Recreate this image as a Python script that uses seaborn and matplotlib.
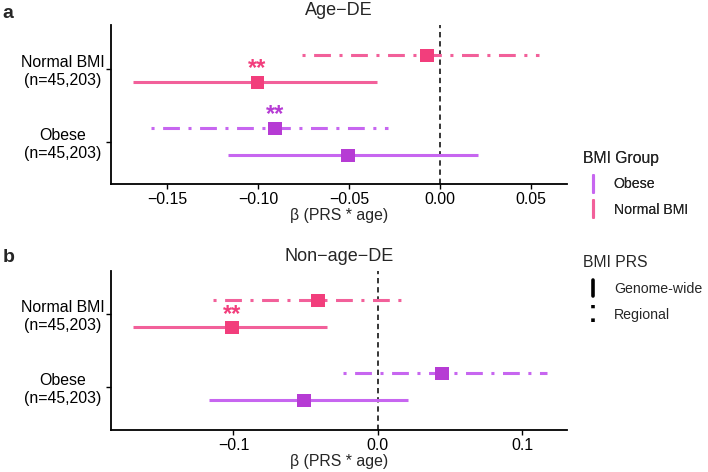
import pandas as pd
import matplotlib.pyplot as plt
import seaborn as sns
from matplotlib.lines import Line2D
from matplotlib.legend_handler import HandlerBase

# Chart data
groups = ["Obese", "Normal BMI"]
group_labels = ["Obese\n(n=45,203)", "Normal BMI\n(n=45,203)"]
prs_types = ["Genome-wide", "Regional"]

# panel a: Age-DE  (order: group x prs)
a_group = ["Normal BMI", "Normal BMI", "Obese", "Obese"]
a_prs = ["Regional", "Genome-wide", "Regional", "Genome-wide"]
a_beta = [-0.0071, -0.1005, -0.0907, -0.0507]
a_low = [-0.0758, -0.1687, -0.1590, -0.1165]
a_high = [0.0544, -0.0346, -0.0286, 0.0209]
a_signif = ["", "**", "**", ""]

# panel b: Non-age-DE
b_group = ["Normal BMI", "Normal BMI", "Obese", "Obese"]
b_prs = ["Regional", "Genome-wide", "Regional", "Genome-wide"]
b_beta = [-0.0415, -0.1010, 0.0443, -0.0512]
b_low = [-0.1140, -0.1696, -0.0242, -0.1170]
b_high = [0.0200, -0.0353, 0.1170, 0.0208]
b_signif = ["", "**", "", ""]

line_colors = {"Obese": "#C766F0", "Normal BMI": "#F2609A"}
point_colors = {"Obese": "#B63BD4", "Normal BMI": "#F23E7C"}
dash_styles = {"Genome-wide": "-", "Regional": (0, (1, 2.8, 5.5, 2.8))}
offsets = {"Regional": 0.185, "Genome-wide": -0.185}


def make_df(group, prs, beta, low, high, signif):
    df = pd.DataFrame({"group": group, "prs": prs, "beta": beta,
                       "low": low, "high": high, "signif": signif})
    df["y"] = df["group"].map({g: i for i, g in enumerate(groups)}) + df["prs"].map(offsets)
    return df


class HandlerVLine(HandlerBase):
    # vertical legend keys like ggplot's errorbar keys
    def create_artists(self, legend, orig_handle, xdescent, ydescent,
                       width, height, fontsize, trans):
        x = width / 2 - xdescent
        ln = Line2D([x, x], [-ydescent - 0.35 * height, height - ydescent + 0.35 * height])
        ln.update_from(orig_handle)
        ln.set_transform(trans)
        return [ln]


def draw_panel(ax, df, title, xlim, xticks, ylim):
    ax.axvline(0, color="black", lw=1.1, ls=(0, (3.5, 2.5)), zorder=1)
    for _, r in df.iterrows():
        ax.hlines(r["y"], r["low"], r["high"], color=line_colors[r["group"]],
                  lw=2.2, linestyles=[dash_styles[r["prs"]]], zorder=2)
    sns.scatterplot(data=df, x="beta", y="y", hue="group", palette=point_colors,
                    marker="s", s=95, edgecolor=None, linewidth=0, legend=False,
                    ax=ax, zorder=3)
    for _, r in df.iterrows():
        if r["signif"]:
            ax.annotate(r["signif"], (r["beta"], r["y"]), xytext=(0, 5),
                        textcoords="offset points", ha="center", va="baseline",
                        color=point_colors[r["group"]], fontsize=17,
                        fontweight="bold")
    ax.set_xlim(*xlim)
    ax.set_xticks(xticks)
    ax.set_ylim(*ylim)
    ax.set_yticks(range(len(groups)))
    ax.set_yticklabels(group_labels)
    ax.set_xlabel("β (PRS * age)", fontsize=11.4, labelpad=1)
    ax.set_ylabel("")
    ax.set_title(title, fontsize=13, pad=7)
    ax.tick_params(labelsize=11.4, length=3.5, width=1, colors="black",
                   bottom=True, left=True)
    ax.tick_params(axis="x", pad=2)
    for t in ax.get_yticklabels():
        t.set_horizontalalignment("center")
    ax.tick_params(axis="y", pad=31)
    for s in ["left", "bottom"]:
        ax.spines[s].set_linewidth(1.3)
        ax.spines[s].set_color("black")
    sns.despine(ax=ax)


sns.set_theme(style="white")
plt.rcParams["font.family"] = ["Liberation Sans", "DejaVu Sans"]

fig = plt.figure(figsize=(7.08, 4.72), dpi=100)
ax_a = fig.add_axes([0.1568, 0.6102, 0.644, 0.3368])
ax_b = fig.add_axes([0.1568, 0.089, 0.644, 0.337])

draw_panel(ax_a, make_df(a_group, a_prs, a_beta, a_low, a_high, a_signif),
           "Age−DE", (-0.181, 0.0698), [-0.15, -0.10, -0.05, 0.00, 0.05], (-0.575, 1.6))
draw_panel(ax_b, make_df(b_group, b_prs, b_beta, b_low, b_high, b_signif),
           "Non−age−DE", (-0.1848, 0.131), [-0.1, 0.0, 0.1], (-0.59, 1.59))

fig.text(0.004, 0.99, "a", fontsize=14, fontweight="bold", va="top")
fig.text(0.004, 0.472, "b", fontsize=14, fontweight="bold", va="top")

# legends
leg_kw = dict(loc="upper left", frameon=False, fontsize=10.2, title_fontsize=11.3,
              alignment="left", handlelength=1.4, handletextpad=0.75,
              labelspacing=0.82, borderpad=0, borderaxespad=0,
              handler_map={Line2D: HandlerVLine()})
grp_handles = [Line2D([], [], color=line_colors[g], lw=2.2) for g in groups]
leg1 = fig.legend(grp_handles, ["Obese", "Normal BMI"], title="BMI Group",
                  bbox_to_anchor=(0.824, 0.681), **leg_kw)
fig.add_artist(leg1)
prs_handles = [Line2D([], [], color="black", lw=2.6, ls=dash_styles[p]) for p in prs_types]
fig.legend(prs_handles, prs_types, title="BMI PRS",
           bbox_to_anchor=(0.824, 0.459), **leg_kw)

fig.savefig("out.png", dpi=100)
